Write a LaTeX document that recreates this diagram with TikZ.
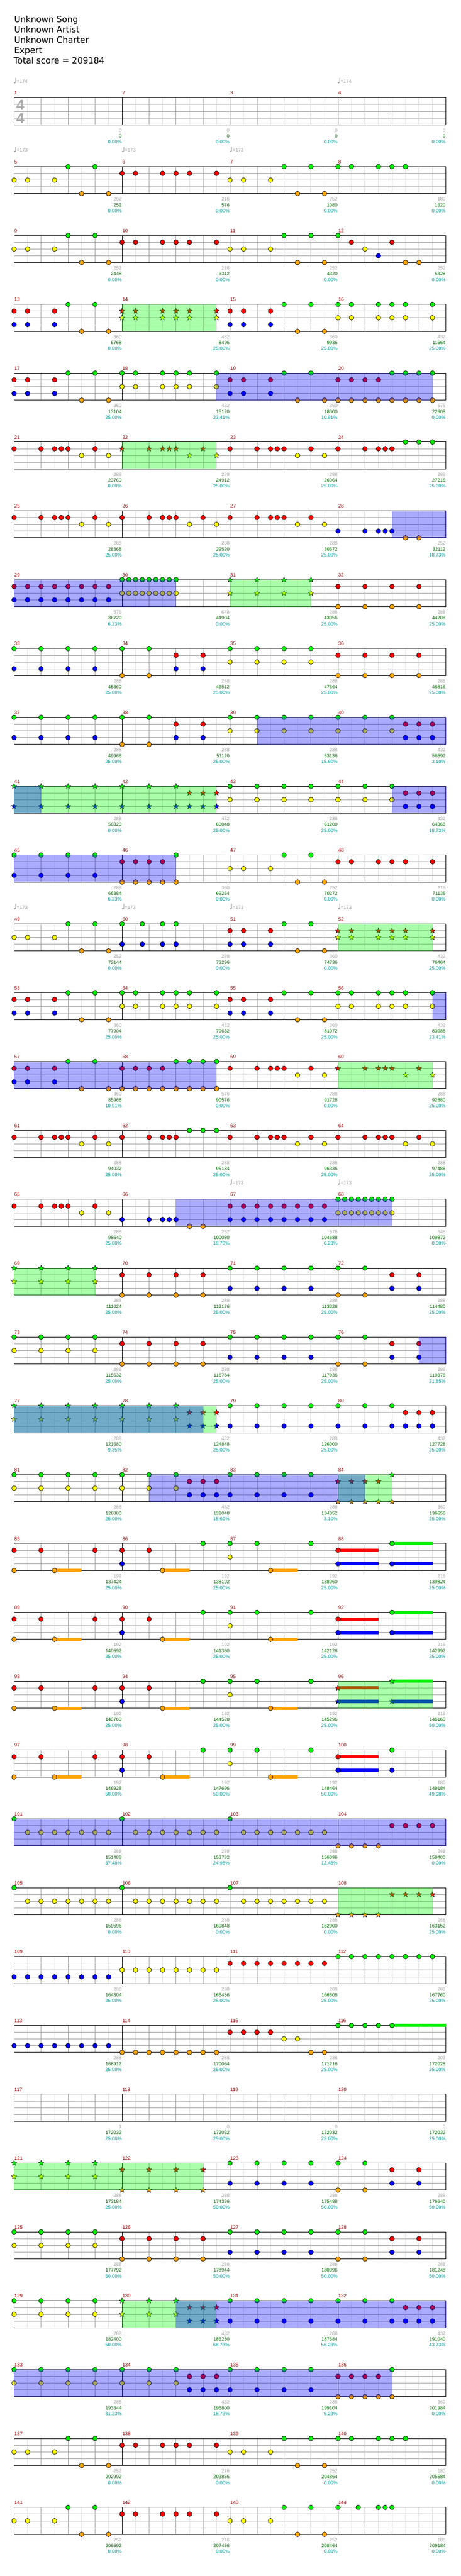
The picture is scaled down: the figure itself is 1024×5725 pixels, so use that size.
\documentclass[tikz,border=0pt]{standalone}
\usepackage{fontspec}
\setmainfont{Liberation Sans}
\newfontfamily\titlefont{DejaVu Sans}
\usetikzlibrary{shapes.geometric}
\definecolor{cg}{RGB}{0,240,0}
\definecolor{cr}{RGB}{255,0,0}
\definecolor{cy}{RGB}{255,255,0}
\definecolor{cb}{RGB}{0,0,255}
\definecolor{co}{RGB}{255,165,0}
\definecolor{txgray}{RGB}{160,160,160}
\definecolor{txgreen}{RGB}{0,100,0}
\definecolor{txteal}{RGB}{0,150,150}
\definecolor{mnumc}{RGB}{150,0,0}
\definecolor{gridA}{RGB}{160,160,160}
\definecolor{gridB}{RGB}{222,222,222}
\definecolor{spg}{RGB}{0,255,0}
\definecolor{sob}{RGB}{0,0,255}
\definecolor{tsgray}{RGB}{170,170,170}
\def\laneg{0}\def\laner{15}\def\laney{30}\def\laneb{45}\def\laneo{60}
\tikzset{
  note/.style={circle,draw=black,line width=0.8pt,inner sep=0pt,minimum size=10.5pt},
  starn/.style={star,star points=5,star point ratio=2.3,draw=black,line width=0.6pt,inner sep=0pt,minimum size=12.5pt},
  cur/.style={note},
  sc/.style={anchor=base east,inner sep=0pt,font=\fontsize{10.7}{12}\selectfont},
  mnum/.style={anchor=base west,inner sep=0pt,text=mnumc,font=\fontsize{11}{12}\selectfont},
  titl/.style={anchor=base west,inner sep=0pt,font=\titlefont\fontsize{19}{22}\selectfont},
  tsig/.style={inner sep=0pt,text=tsgray,font=\bfseries\fontsize{32}{32}\selectfont}
}
\newcommand\setrow[1]{\pgfmathsetmacro\rowT{217.3+153*(#1-1)}\pgfmathtruncatemacro\rowN{4*(#1-1)}}
\newcommand\gridrow{%
  \foreach \k in {0,1,2,3}{%
    \foreach \j in {1,3,5,7}{\draw[gridB,line width=0.8pt] ({31.3+240*\k+30*\j},\rowT) -- ++(0,60);}
    \foreach \j in {2,4,6}{\draw[gridA,line width=0.8pt] ({31.3+240*\k+30*\j},\rowT) -- ++(0,60);}
  }
  \foreach \d in {15,30,45}{\draw[gridA,line width=0.9pt] (31.3,{\rowT+\d}) -- (991.3,{\rowT+\d});}
  \foreach \k in {1,2,3}{\draw[black,line width=0.9pt] ({31.3+240*\k},\rowT) -- ++(0,60);}
  \draw[black,line width=1.2pt] (31.3,\rowT) rectangle (991.3,{\rowT+60});
  \foreach \k in {0,1,2,3}{\pgfmathtruncatemacro\mn{\rowN+\k+1}\node[mnum] at ({31.8+240*\k},{\rowT-6.7}) {\mn};}
}
\newcommand\Ms[1]{\pgfmathsetmacro\curX{31.3+240*#1}\tikzset{cur/.style={note}}}
\newcommand\Ss[1]{\pgfmathsetmacro\curX{31.3+240*#1}\tikzset{cur/.style={starn}}}
\newcommand\Nt[2]{\edef\laneoff{\csname lane#1\endcsname}%
  \foreach \p in {#2}{\node[cur,fill=c#1] at ({\curX+30*\p},{\rowT+\laneoff}) {};}}
\newcommand\Su[3]{\edef\laneoff{\csname lane#1\endcsname}%
  \fill[c#1] ({\curX+30*#2},{\rowT+\laneoff-3.5}) rectangle ({\curX+30*#3},{\rowT+\laneoff+3.5});}
\newcommand\OvG[4]{\fill[spg,fill opacity=0.333] ({31.3+240*#1+30*#2},\rowT) rectangle ({31.3+240*#3+30*#4},{\rowT+60});}
\newcommand\OvB[4]{\fill[sob,fill opacity=0.333] ({31.3+240*#1+30*#2},\rowT) rectangle ({31.3+240*#3+30*#4},{\rowT+60});}
\newcommand\Sc[4]{\pgfmathsetmacro\sx{31.3+240*(#1+1)-0.8}%
  \node[sc,text=txgray] at (\sx,{\rowT+76}) {#2};
  \node[sc,text=txgreen] at (\sx,{\rowT+89}) {#3};
  \node[sc,text=txteal] at (\sx,{\rowT+102}) {#4\%};}
\newcommand\Tp[2]{\pgfmathsetmacro\tx{31.3+240*#1}%
  \fill[txgray] ({\tx+1.7},{\rowT-33.8}) ellipse [x radius=2.2, y radius=1.8];
  \draw[txgray,line width=0.8pt] ({\tx+3.6},{\rowT-34}) -- ({\tx+3.6},{\rowT-44.5});
  \node[sc,anchor=base west,text=txgray] at ({\tx+5.8},{\rowT-32.7}) {=#2};}
% patterns
\newcommand\PA{\Nt y{0,1,3}\Nt g{4,6}\Nt o{5,7}}
\newcommand\PB{\Nt r{0,1,3,4,5,7}}
\newcommand\PC{\Nt r{0,1,3}\Nt b{0,1,3}\Nt g{4,6}\Nt o{5,7}}
\newcommand\PD{\Nt g{0,1,3,4,5,7}\Nt y{0,1,3,4,5,7}}
\newcommand\PE{\Nt r{0,2,3,3.5,4,6}\Nt y{5,7}}
\newcommand\PF{\Nt r{0,2,3,3.5,4}\Nt g{5,6,7}}
\newcommand\PG{\Nt g{0,2,4,6}\Nt b{0,2,4,6}}
\newcommand\PH{\Nt g{0,2}\Nt o{0,2}\Nt r{4,6}\Nt b{4,6}}
\newcommand\PI{\Nt g{0,2,4,6}\Nt y{0,2,4,6}}
\newcommand\PJ{\Nt r{0,2,4,6}\Nt o{0,2,4,6}}
\newcommand\PK{\Nt g{0,2,4}\Nt y{0,2,4}\Nt r{5,6,7}\Nt b{5,6,7}}
\newcommand\PL{\Nt g{0,2,4}\Nt b{0,2,4,5,6,7}\Nt r{5,6,7}}
\newcommand\PM{\Nt r{0,1,2,3}\Nt o{0,1,2,3,4}\Nt g{4}}
\newcommand\PN{\Nt r{0,1,2,3}\Nt g{4,5,6,7}\Nt o{0,...,7}}
\newcommand\PO{\Nt b{0,2,3,3.5,4}\Nt o{5,6}}
\newcommand\PP{\Nt r{0,...,7}\Nt b{0,...,7}}
\newcommand\PQ{\Nt g{0,0.5,...,4}\Nt y{0,0.5,...,4}}
\newcommand\PR{\Nt g{0}\Nt y{1,...,7}}
\newcommand\RA{\Nt r{0,2,6}\Nt o{0}\Su o{3}{5}\Nt o{3}}
\newcommand\RB{\Nt r{0,2}\Nt b{0}\Su o{3}{5}\Nt o{3}\Nt g{6}}
\newcommand\RC{\Nt g{0,2,6}\Nt y{0}\Su o{3}{5}\Nt o{3}}
\newcommand\RD{\Su r{0}{3}\Nt r{0}\Su b{0}{3}\Nt b{0}\Su g{4}{7}\Nt g{4}\Su b{4}{7}\Nt b{4}}
\begin{document}
\begin{tikzpicture}[x=1pt,y=-1pt]
\useasboundingbox (0,0) rectangle (1024,5725);
\fill[white] (0,0) rectangle (1024,5725);
\node[titl] (t1) at (31.3,49.3) {Unknown Song};
\node[titl] (t2) at (31.3,72.4) {Unknown Artist};
\node[titl] (t3) at (31.3,95.5) {Unknown Charter};
\node[titl] (t4) at (31.3,118.4) {Expert};
\node[titl] (t5) at (30.3,141.5) {Total score = 209184};
% row 1
\setrow{1}\gridrow
\node[tsig] (ts1) at (45,{\rowT+16.2}) {4};
\node[tsig] (ts2) at (45,{\rowT+45.7}) {4};
\Tp0{174}\Tp3{174}
\Sc0{0}{0}{0.00}\Sc1{0}{0}{0.00}\Sc2{0}{0}{0.00}\Sc3{0}{0}{0.00}
% row 2
\setrow{2}\gridrow\Tp0{173}\Tp1{173}\Tp2{173}
\Ms0\PA\Ms1\PB\Ms2\PA\Ms3\Nt g{0,1,3,4,5}
\Sc0{252}{252}{0.00}\Sc1{216}{576}{0.00}\Sc2{252}{1080}{0.00}\Sc3{180}{1620}{0.00}
% row 3
\setrow{3}\gridrow
\Ms0\PA\Ms1\PB\Ms2\PA\Ms3\Nt g{0}\Nt r{1,4}\Nt y{2}\Nt b{3}\Nt o{5,6}
\Sc0{252}{2448}{0.00}\Sc1{216}{3312}{0.00}\Sc2{252}{4320}{0.00}\Sc3{252}{5328}{0.00}
% row 4
\setrow{4}\gridrow
\Ms0\PC\Ss1\Nt r{0,1,3,4,5,7}\Nt y{0,1,3,4,5,7}\Ms2\PC\Ms3\PD
\OvG{1}{0}{1}{7}
\Sc0{360}{6768}{0.00}\Sc1{432}{8496}{25.00}\Sc2{360}{9936}{25.00}\Sc3{432}{11664}{25.00}
% row 5
\setrow{5}\gridrow
\Ms0\PC\Ms1\PD\Ms2\PC\Ms3\PN
\OvB{1}{7}{3}{7}
\Sc0{360}{13104}{25.00}\Sc1{432}{15120}{23.41}\Sc2{360}{18000}{10.91}\Sc3{576}{22608}{0.00}
% row 6
\setrow{6}\gridrow
\Ms0\PE\Ss1\PE\Ms2\PE\Ms3\PF
\OvG{1}{0}{1}{7}
\Sc0{288}{23760}{0.00}\Sc1{288}{24912}{25.00}\Sc2{288}{26064}{25.00}\Sc3{288}{27216}{25.00}
% row 7
\setrow{7}\gridrow
\Ms0\PE\Ms1\PE\Ms2\PE\Ms3\PO
\OvB{3}{4}{4}{0}
\Sc0{288}{28368}{25.00}\Sc1{288}{29520}{25.00}\Sc2{288}{30672}{25.00}\Sc3{252}{32112}{18.73}
% row 8
\setrow{8}\gridrow
\Ms0\PP\Ms1\PQ\Ss2\PI\Ms3\PJ
\OvG{2}{0}{2}{6}\OvB{0}{0}{1}{4}
\Sc0{576}{36720}{6.23}\Sc1{648}{41904}{0.00}\Sc2{288}{43056}{25.00}\Sc3{288}{44208}{25.00}
% row 9
\setrow{9}\gridrow
\Ms0\PG\Ms1\PH\Ms2\PI\Ms3\PJ
\Sc0{288}{45360}{25.00}\Sc1{288}{46512}{25.00}\Sc2{288}{47664}{25.00}\Sc3{288}{48816}{25.00}
% row 10
\setrow{10}\gridrow
\Ms0\PG\Ms1\PH\Ms2\PI\Ms3\PK
\OvB{2}{2}{4}{0}
\Sc0{288}{49968}{25.00}\Sc1{288}{51120}{25.00}\Sc2{288}{53136}{15.60}\Sc3{432}{56592}{3.10}
% row 11
\setrow{11}\gridrow
\Ss0\PG\Ss1\Nt g{0,2,4}\Nt r{5,6,7}\Nt b{0,2,4,5,6,7}\Ms2\PI\Ms3\PK
\OvG{0}{0}{1}{7}\OvB{0}{0}{0}{2}\OvB{3}{4}{4}{0}
\Sc0{288}{58320}{0.00}\Sc1{432}{60048}{25.00}\Sc2{288}{61200}{25.00}\Sc3{432}{64368}{18.73}
% row 12
\setrow{12}\gridrow
\Ms0\PG\Ms1\PM\Ms2\PA\Ms3\PB
\OvB{0}{0}{1}{4}
\Sc0{288}{66384}{6.23}\Sc1{360}{69264}{0.00}\Sc2{252}{70272}{0.00}\Sc3{216}{71136}{0.00}
% row 13
\setrow{13}\gridrow\Tp0{173}\Tp1{173}\Tp2{173}\Tp3{173}
\Ms0\PA\Ms1\Nt g{0,1.5,3,4}\Nt b{0,1.5,3,4}\Ms2\PC\Ss3\Nt r{0,1,3,4,5,7}\Nt y{0,1,3,4,5,7}
\OvG{3}{0}{3}{7}
\Sc0{252}{72144}{0.00}\Sc1{288}{73296}{0.00}\Sc2{360}{74736}{0.00}\Sc3{432}{76464}{25.00}
% row 14
\setrow{14}\gridrow
\Ms0\PC\Ms1\PD\Ms2\PC\Ms3\PD
\OvB{3}{7}{4}{0}
\Sc0{360}{77904}{25.00}\Sc1{432}{79632}{25.00}\Sc2{360}{81072}{25.00}\Sc3{432}{83088}{23.41}
% row 15
\setrow{15}\gridrow
\Ms0\PC\Ms1\PN\Ms2\PE\Ss3\PE
\OvB{0}{0}{1}{7}\OvG{3}{0}{3}{7}
\Sc0{360}{85968}{10.91}\Sc1{576}{90576}{0.00}\Sc2{288}{91728}{0.00}\Sc3{288}{92880}{25.00}
% row 16
\setrow{16}\gridrow
\Ms0\PE\Ms1\PF\Ms2\PE\Ms3\PE
\Sc0{288}{94032}{25.00}\Sc1{288}{95184}{25.00}\Sc2{288}{96336}{25.00}\Sc3{288}{97488}{25.00}
% row 17
\setrow{17}\gridrow\Tp2{173}\Tp3{173}
\Ms0\PE\Ms1\PO\Ms2\PP\Ms3\PQ
\OvB{1}{4}{3}{4}
\Sc0{288}{98640}{25.00}\Sc1{252}{100080}{18.73}\Sc2{576}{104688}{6.23}\Sc3{648}{109872}{0.00}
% row 18
\setrow{18}\gridrow
\Ss0\PI\Ms1\PJ\Ms2\PG\Ms3\PH
\OvG{0}{0}{0}{6}
\Sc0{288}{111024}{25.00}\Sc1{288}{112176}{25.00}\Sc2{288}{113328}{25.00}\Sc3{288}{114480}{25.00}
% row 19
\setrow{19}\gridrow
\Ms0\PI\Ms1\PJ\Ms2\PG\Ms3\PH
\OvB{3}{6}{4}{0}
\Sc0{288}{115632}{25.00}\Sc1{288}{116784}{25.00}\Sc2{288}{117936}{25.00}\Sc3{288}{119376}{21.85}
% row 20
\setrow{20}\gridrow
\Ss0\PI\Ss1\PK\Ms2\PG\Ms3\PL
\OvG{0}{0}{1}{7}\OvB{0}{0}{1}{6}
\Sc0{288}{121680}{9.35}\Sc1{432}{124848}{25.00}\Sc2{288}{126000}{25.00}\Sc3{432}{127728}{25.00}
% row 21
\setrow{21}\gridrow
\Ms0\PI\Ms1\PK\Ms2\PG\Ss3\PM
\OvG{3}{0}{3}{4}\OvB{1}{2}{3}{2}
\Sc0{288}{128880}{25.00}\Sc1{432}{132048}{15.60}\Sc2{288}{134352}{3.10}\Sc3{360}{136656}{25.00}
% row 22
\setrow{22}\gridrow
\Ms0\RA\Ms1\RB\Ms2\RC\Ms3\RD
\Sc0{192}{137424}{25.00}\Sc1{192}{138192}{25.00}\Sc2{192}{138960}{25.00}\Sc3{216}{139824}{25.00}
% row 23
\setrow{23}\gridrow
\Ms0\RA\Ms1\RB\Ms2\RC\Ms3\RD
\Sc0{192}{140592}{25.00}\Sc1{192}{141360}{25.00}\Sc2{192}{142128}{25.00}\Sc3{216}{142992}{25.00}
% row 24
\setrow{24}\gridrow
\Ms0\RA\Ms1\RB\Ms2\RC\Ss3\RD
\OvG{3}{0}{3}{7}
\Sc0{192}{143760}{25.00}\Sc1{192}{144528}{25.00}\Sc2{192}{145296}{25.00}\Sc3{216}{146160}{50.00}
% row 25
\setrow{25}\gridrow
\Ms0\RA\Ms1\RB\Ms2\RC\Ms3\Su r{0}{3}\Nt r{0}\Su b{0}{3}\Nt b{0}\Nt g{4}\Nt b{4}
\Sc0{192}{146928}{50.00}\Sc1{192}{147696}{50.00}\Sc2{192}{148464}{50.00}\Sc3{180}{149184}{49.98}
% row 26
\setrow{26}\gridrow
\Ms0\PR\Ms1\PR\Ms2\PR\Ms3\Nt o{0,1,2,3}\Nt r{4,5,6,7}
\OvB{0}{0}{4}{0}
\Sc0{288}{151488}{37.48}\Sc1{288}{153792}{24.98}\Sc2{288}{156096}{12.48}\Sc3{288}{158400}{0.00}
% row 27
\setrow{27}\gridrow
\Ms0\PR\Ms1\PR\Ms2\PR\Ss3\Nt o{0,1,2,3}\Nt r{4,5,6,7}
\OvG{3}{0}{3}{7}
\Sc0{288}{159696}{0.00}\Sc1{288}{160848}{0.00}\Sc2{288}{162000}{0.00}\Sc3{288}{163152}{25.00}
% row 28
\setrow{28}\gridrow
\Ms0\Nt b{0,...,7}\Ms1\Nt y{0,...,7}\Ms2\Nt r{0,...,7}\Ms3\Nt g{0,...,7}
\Sc0{288}{164304}{25.00}\Sc1{288}{165456}{25.00}\Sc2{288}{166608}{25.00}\Sc3{288}{167760}{25.00}
% row 29
\setrow{29}\gridrow
\Ms0\Nt b{0,...,7}\Ms1\Nt o{0,...,7}\Ms2\Nt r{0,1,2,3}\Nt y{4,5}\Nt o{6,7}\Ms3\Su g{4}{8}\Nt g{0,1,2,3,4}
\Sc0{288}{168912}{25.00}\Sc1{288}{170064}{25.00}\Sc2{288}{171216}{25.00}\Sc3{203}{172028}{25.00}
% row 30
\setrow{30}\gridrow
\Sc0{1}{172032}{25.00}\Sc1{0}{172032}{25.00}\Sc2{0}{172032}{25.00}\Sc3{0}{172032}{25.00}
% row 31
\setrow{31}\gridrow
\Ss0\PI\Ss1\PJ\Ms2\PG\Ms3\PH
\OvG{0}{0}{1}{6}
\Sc0{288}{173184}{25.00}\Sc1{288}{174336}{50.00}\Sc2{288}{175488}{50.00}\Sc3{288}{176640}{50.00}
% row 32
\setrow{32}\gridrow
\Ms0\PI\Ms1\PJ\Ms2\PG\Ms3\PH
\Sc0{288}{177792}{50.00}\Sc1{288}{178944}{50.00}\Sc2{288}{180096}{50.00}\Sc3{288}{181248}{50.00}
% row 33
\setrow{33}\gridrow
\Ms0\PI\Ss1\PK\Ms2\PG\Ms3\PL
\OvG{1}{0}{1}{7}\OvB{1}{4}{4}{0}
\Sc0{288}{182400}{50.00}\Sc1{432}{185280}{68.73}\Sc2{288}{187584}{56.23}\Sc3{432}{191040}{43.73}
% row 34
\setrow{34}\gridrow
\Ms0\PI\Ms1\PK\Ms2\PG\Ms3\PM
\OvB{0}{0}{3}{4}
\Sc0{288}{193344}{31.23}\Sc1{432}{196800}{18.73}\Sc2{288}{199104}{6.23}\Sc3{360}{201984}{0.00}
% row 35
\setrow{35}\gridrow
\Ms0\PA\Ms1\PB\Ms2\PA\Ms3\Nt g{0,1,3,4,5}
\Sc0{252}{202992}{0.00}\Sc1{216}{203856}{0.00}\Sc2{252}{204864}{0.00}\Sc3{180}{205584}{0.00}
% row 36
\setrow{36}\gridrow
\Ms0\PA\Ms1\PB\Ms2\PA\Ms3\Nt g{0,1.5,3,3.5,4}
\Sc0{252}{206592}{0.00}\Sc1{216}{207456}{0.00}\Sc2{252}{208464}{0.00}\Sc3{180}{209184}{0.00}
\end{tikzpicture}
\end{document}
